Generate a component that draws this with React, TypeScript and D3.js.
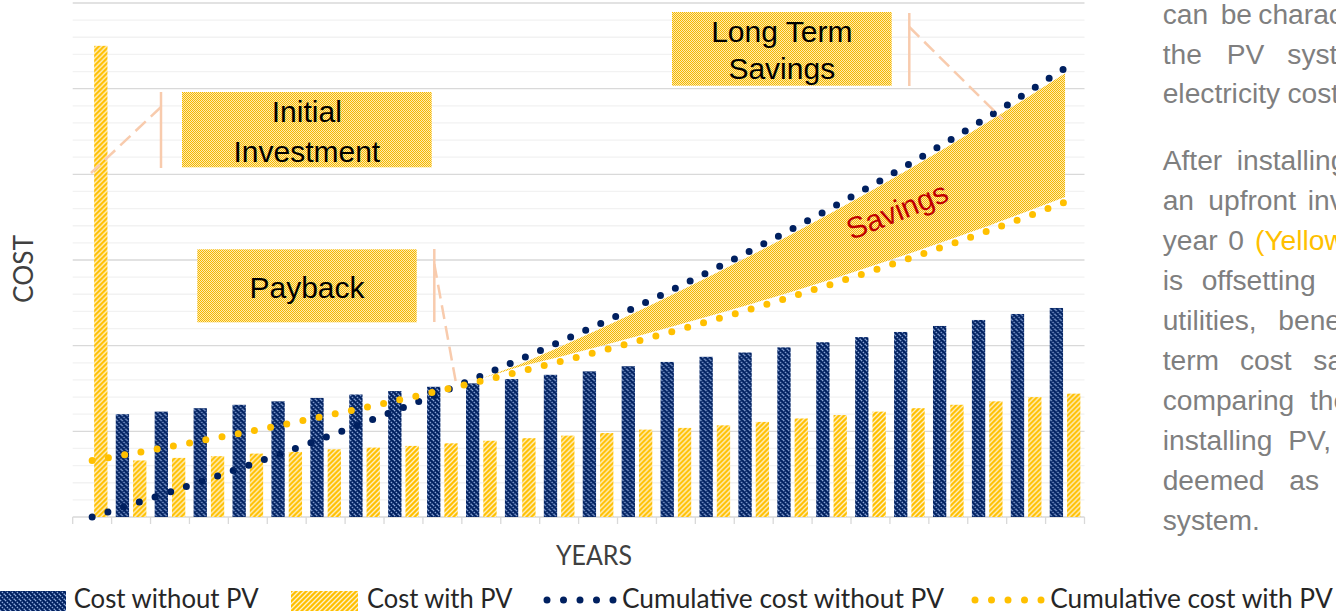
import * as d3 from "d3";

// years on the x axis
const years = [0, 1, 2, 3, 4, 5, 6, 7, 8, 9, 10, 11, 12, 13, 14, 15, 16, 17, 18, 19, 20, 21, 22, 23, 24, 25];

// yearly cost (primary axis)
const costWithoutPV = [0, 12.0, 12.3, 12.7, 13.1, 13.5, 13.9, 14.3, 14.7, 15.2, 15.6, 16.1, 16.6, 17.0, 17.6, 18.1, 18.7, 19.2, 19.8, 20.4, 21.0, 21.6, 22.3, 23.0, 23.7, 24.4];
const costWithPV = [55.0, 6.6, 6.9, 7.1, 7.4, 7.6, 7.9, 8.1, 8.3, 8.6, 8.9, 9.2, 9.5, 9.8, 10.2, 10.4, 10.7, 11.1, 11.5, 11.9, 12.3, 12.7, 13.1, 13.5, 14.0, 14.4];

// cumulative cost (secondary axis, not shown)
const cumWithoutPV = [0, 12.0, 24.3, 37.0, 50.1, 63.6, 77.5, 91.8, 106.5, 121.7, 137.3, 153.4, 170.0, 187.0, 204.6, 222.7, 241.4, 260.6, 280.4, 300.8, 321.7, 343.4, 365.6, 388.6, 412.3, 436.6];
const cumWithPV = [55.0, 61.6, 68.5, 75.6, 82.9, 90.5, 98.4, 106.4, 114.8, 123.4, 132.3, 141.5, 150.9, 160.7, 170.9, 181.3, 192.0, 203.1, 214.6, 226.5, 238.8, 251.5, 264.5, 278.0, 292.0, 306.4];

const legendLabels = ["Cost without PV", "Cost with PV", "Cumulative cost without PV", "Cumulative cost with PV"];

const W = 1336, H = 613;
const left = 72.7, right = 1084.5, top = 3, bottom = 517;

const NAVY = "#002060";
const GOLD = "#FFC000";
const PEACH = "#F8CBAD";
const ARIAL = "'Liberation Sans', Arial, sans-serif";
const CAL = "Lato, 'Open Sans', sans-serif";

// right-hand paragraph, clipped at the page edge as in the slide
const para = [
  { y: 24, words: [[1162.7, "can"], [1220.7, "be"], [1258.3, "characterized"]] },
  { y: 63.5, words: [[1162.7, "the"], [1226.7, "PV"], [1287.3, "system"]] },
  { y: 103, words: [[1162.7, "electricity"], [1287.5, "cost"]] },
  { y: 170, words: [[1162.7, "After"], [1236.7, "installing"]] },
  { y: 210, words: [[1162.7, "an"], [1208.3, "upfront"], [1307.7, "investment"]] },
  { y: 250, words: [[1162.7, "year"], [1228.3, "0"], [1255, "(Yellow", GOLD]] },
  { y: 290, words: [[1162.7, "is"], [1201.7, "offsetting"]] },
  { y: 330, words: [[1162.7, "utilities,"], [1278.3, "benefiting"]] },
  { y: 370, words: [[1162.7, "term"], [1240, "cost"], [1313.3, "savings"]] },
  { y: 410, words: [[1162.7, "comparing"], [1310, "the"]] },
  { y: 450, words: [[1162.7, "installing"], [1288.3, "PV,"]] },
  { y: 490, words: [[1162.7, "deemed"], [1289.3, "as"]] },
  { y: 530, words: [[1162.7, "system."]] },
];

export default function App() {
  const x = d3.scaleBand<number>().domain(years).range([left, right]);
  const bw = x.bandwidth();
  const sub = d3.scaleBand<string>().domain(["without", "with"]).range([0, bw]).paddingInner(0.231).paddingOuter(0.24);
  const y = d3.scaleLinear().domain([0, 60]).range([bottom, top]);
  const y2 = d3.scaleLinear().domain([0, 500]).range([bottom, top]);
  const cx = (i: number) => (x(years[i]) as number) + bw / 2;

  const line = d3.line<number>().x((_, i) => cx(i)).y((v) => y2(v));

  // savings band between cumulative lines, inset from the dotted lines
  const inset = 5;
  const bandIdx = years.map((_, i) => i).filter((i) => i >= 9);
  const bandPts = bandIdx.map((i) => {
    let t = y2(cumWithoutPV[i]) + inset;
    let b = y2(cumWithPV[i]) - inset;
    if (t > b) { const m = (t + b) / 2; t = m; b = m; }
    return { x: cx(i), t, b };
  });
  const area = d3.area<{ x: number; t: number; b: number }>().x((d) => d.x).y0((d) => d.b).y1((d) => d.t);

  const gridTicks = y.ticks(30).filter((v) => v > 0);
  const boundaries = [...years.map((yr) => x(yr) as number), right];

  const dotted = { fill: "none", strokeWidth: 7, strokeLinecap: "round" as const, strokeDasharray: "0 16.5" };

  return (
    <div style={{ position: "absolute", left: 0, top: 0, width: W, height: H, overflow: "hidden", background: "#fff" }}>
      <svg width={W} height={H} style={{ display: "block" }}>
        <defs>
          <pattern id="pBlue" width="5" height="5" patternUnits="userSpaceOnUse">
            <rect width="5" height="5" fill={NAVY} />
            <path d="M0,0 L5,5 M-1,4 L1,6 M4,-1 L6,1" stroke="#8FAADC" strokeWidth="1.3" strokeDasharray="1.6 1" />
          </pattern>
          <pattern id="pYellow" width="5" height="5" patternUnits="userSpaceOnUse">
            <rect width="5" height="5" fill={GOLD} />
            <path d="M0,5 L5,0 M-1,1 L1,-1 M4,6 L6,4" stroke="#FFF2CC" strokeWidth="1.3" />
          </pattern>
          <pattern id="pCheck" width="2" height="2" patternUnits="userSpaceOnUse">
            <rect width="2" height="2" fill="#FFEBB0" shapeRendering="crispEdges" />
            <rect width="1" height="1" fill="#F5B800" shapeRendering="crispEdges" />
            <rect x="1" y="1" width="1" height="1" fill="#F5B800" shapeRendering="crispEdges" />
          </pattern>
        </defs>

        {/* gridlines */}
        {gridTicks.map((v) => (
          <line key={v} x1={left} x2={right} y1={y(v)} y2={y(v)} stroke={v % 10 === 0 ? "#D9D9D9" : "#F2F2F2"} strokeWidth={1.3} />
        ))}
        {/* x axis */}
        <line x1={left} x2={right} y1={bottom} y2={bottom} stroke="#D9D9D9" strokeWidth={1.3} />
        {boundaries.map((bx, i) => (
          <line key={i} x1={bx} x2={bx} y1={bottom} y2={bottom + 7} stroke="#D9D9D9" strokeWidth={1.3} />
        ))}

        {/* bars */}
        {years.map((yr, i) => (
          <g key={yr} transform={`translate(${x(yr)},0)`}>
            {costWithoutPV[i] > 0 && (
              <rect x={sub("without")} y={y(costWithoutPV[i])} width={sub.bandwidth()} height={bottom - y(costWithoutPV[i])} fill="url(#pBlue)" />
            )}
            <rect x={sub("with")} y={y(costWithPV[i])} width={sub.bandwidth()} height={bottom - y(costWithPV[i])} fill="url(#pYellow)" />
          </g>
        ))}

        {/* savings band */}
        <path d={area(bandPts) || ""} fill="url(#pCheck)" />

        {/* cumulative lines */}
        <path d={line(cumWithoutPV) || ""} stroke={NAVY} {...dotted} />
        <path d={line(cumWithPV) || ""} stroke={GOLD} {...dotted} />

        <text transform="translate(898,213) rotate(-22)" textAnchor="middle" dominantBaseline="middle" fontFamily={ARIAL} fontSize={30} fill="#C00000">Savings</text>

        {/* callouts */}
        <g fontFamily={ARIAL} fontSize={30} fill="#000" textAnchor="middle">
          <rect x={182} y={92} width={249.7} height={75.3} fill="url(#pCheck)" />
          <text x={306.8} y={122.3}>Initial</text>
          <text x={306.8} y={161.7}>Investment</text>
          <line x1={161} x2={161} y1={92} y2={168} stroke={PEACH} strokeWidth={2.5} />
          <line x1={161} y1={107} x2={91} y2={173} stroke={PEACH} strokeWidth={2.5} strokeDasharray="14 7" />

          <rect x={197.3} y={249.3} width={219.4} height={73} fill="url(#pCheck)" />
          <text x={307} y={297.7}>Payback</text>
          <line x1={434.3} x2={434.3} y1={249} y2={322} stroke={PEACH} strokeWidth={2.5} />
          <line x1={434.3} y1={264} x2={456} y2={383} stroke={PEACH} strokeWidth={2.5} strokeDasharray="14 7" />

          <rect x={672} y={12} width={219.7} height={73.7} fill="url(#pCheck)" />
          <text x={781.8} y={42.3}>Long Term</text>
          <text x={781.8} y={79}>Savings</text>
          <line x1={909.3} x2={909.3} y1={13} y2={86} stroke={PEACH} strokeWidth={2.5} />
          <line x1={909.3} y1={27} x2={1002.7} y2={119.3} stroke={PEACH} strokeWidth={2.5} strokeDasharray="14 7" />
        </g>

        {/* axis titles */}
        <text transform="translate(33,269) rotate(-90)" textAnchor="middle" fontFamily={CAL} fontSize={26} fill="#404040" textLength={68} lengthAdjust="spacingAndGlyphs">COST</text>
        <text x={594} y={565} textAnchor="middle" fontFamily={CAL} fontSize={26} fill="#404040" textLength={76} lengthAdjust="spacingAndGlyphs">YEARS</text>

        {/* legend */}
        <g fontFamily={CAL} fontSize={26} fill="#262626">
          <rect x={0} y={591} width={66} height={20} fill="url(#pBlue)" />
          <text x={73.7} y={607.5} textLength={185} lengthAdjust="spacingAndGlyphs">{legendLabels[0]}</text>
          <rect x={291} y={591} width={67} height={20} fill="url(#pYellow)" />
          <text x={367} y={607.5} textLength={145.5} lengthAdjust="spacingAndGlyphs">{legendLabels[1]}</text>
          <path d="M547,600 L614,600" stroke={NAVY} {...dotted} />
          <text x={622} y={607.5} textLength={322} lengthAdjust="spacingAndGlyphs">{legendLabels[2]}</text>
          <path d="M975,600 L1042,600" stroke={GOLD} {...dotted} />
          <text x={1050.3} y={607.5} textLength={282.4} lengthAdjust="spacingAndGlyphs">{legendLabels[3]}</text>
        </g>

        {/* side paragraph */}
        <g fontFamily={ARIAL} fontSize={28.2} fill="#7F7F7F">
          {para.map((ln, li) =>
            ln.words.map((w, wi) => (
              <text key={`${li}-${wi}`} x={w[0] as number} y={ln.y} fill={(w[2] as string) || "#7F7F7F"}>{w[1] as string}</text>
            ))
          )}
        </g>
      </svg>
    </div>
  );
}
